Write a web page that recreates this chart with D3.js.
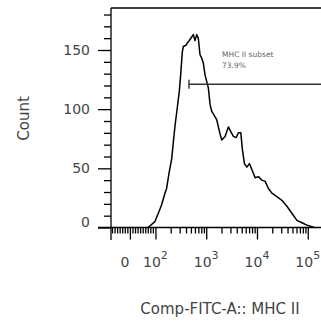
<!DOCTYPE html>
<html>
<head>
<meta charset="utf-8">
<script src="https://cdn.jsdelivr.net/npm/d3@7"></script>
<style>
    body { margin: 0; background: #fff; }
    svg { display: block; font-family: "DejaVu Sans", sans-serif; }
</style>
</head>
<body>
<svg id="canvas" width="321" height="322"></svg>
<script>
// histogram bins: intensity (bin centre) and count
let binValues = [71, 98, 114, 132, 154, 166, 187, 209, 225, 243, 269, 295, 314, 338, 354, 400, 424, 465, 518, 557,
    602, 650, 699, 755, 816, 878, 948, 1102, 1191, 1286, 1383, 1615, 1735, 1875, 2025, 2353, 2735, 3050, 3430, 3877,
    4305, 4800, 5161, 5657, 6308, 7100, 7925, 9204, 10690, 12470, 14490, 16830, 19640, 24650, 30960, 38820, 48730,
    61190, 76780, 96390, 112000, 134300]
let binCounts = [0, 5, 12, 19, 29, 33, 47, 58, 72, 86, 101, 115, 129, 148, 153, 154, 156, 158, 161, 163,
    158, 163, 160, 146, 143, 139, 129, 118, 104, 98, 96, 91, 85, 79, 74, 77, 85, 81, 77, 76,
    80, 80, 66, 54, 51, 54, 49, 42, 43, 40, 39, 33, 29, 26, 23, 18, 12,
    6, 4, 2, 1, 0]

let yMajorTicks = [0, 50, 100, 150]
let yMinorTicks = [10, 20, 30, 40, 60, 70, 80, 90, 110, 120, 130, 140, 160, 170, 180]

let xMajorTicks = [0, 100, 1000, 10000, 100000]
let xTickLabels = ['0', '2', '3', '4', '5'] // exponents, '0' is plain zero
let xMinorTicks = [-70, -60, -50, -40, -30, -20, -10, 10, 20, 30, 40, 50, 60, 70, 80, 90,
    200, 300, 400, 500, 600, 700, 800, 900, 2000, 3000, 4000, 5000, 6000, 7000, 8000, 9000,
    20000, 30000, 40000, 50000, 60000, 70000, 80000, 90000, 200000]

let xDomain = [-74, 262144]
let yDomain = [0, 185.5]

let gateRange = [458, 262144]
let gateCount = 121
let gateName = 'MHC II subset'
let gatePercent = '73.9%'

let xTitle = 'Comp-FITC-A:: MHC II'
let yTitle = 'Count'

let canvas = d3.select('#canvas')

// biexponential-ish display: linear below 100, log10 above
let toDisplay = (v) => {
    return v >= 100 ? Math.log10(v) : 2 - 0.503 * (100 - v) / 100
}

let x = d3.scaleLinear()
    .domain(xDomain.map(toDisplay))
    .range([111, 329])

let y = d3.scaleLinear()
    .domain(yDomain)
    .range([227.5, 8])

let drawChart = () => {

    // minor ticks first
    canvas.append('g')
        .attr('class', 'y-minor')
        .attr('transform', 'translate(111,0)')
        .call(d3.axisLeft(y).tickValues(yMinorTicks).tickSize(7).tickFormat(''))

    canvas.append('g')
        .attr('class', 'y-major')
        .attr('transform', 'translate(111,0)')
        .call(d3.axisLeft(y).tickValues(yMajorTicks).tickSize(13).tickPadding(8))

    canvas.append('g')
        .attr('class', 'x-minor')
        .attr('transform', 'translate(0,227.5)')
        .call(d3.axisBottom(x).tickValues(xMinorTicks.map(toDisplay)).tickSize(6).tickFormat(''))

    canvas.append('g')
        .attr('class', 'x-major')
        .attr('transform', 'translate(0,227.5)')
        .call(d3.axisBottom(x).tickValues(xMajorTicks.map(toDisplay)).tickSize(12).tickFormat(''))

    canvas.selectAll('.domain').remove()
    canvas.selectAll('.tick line')
        .attr('stroke', '#000')
        .attr('stroke-width', 1.3)

    canvas.selectAll('.y-major text')
        .attr('font-size', 14)
        .attr('font-family', '"DejaVu Sans", sans-serif')
        .attr('fill', '#444')
        .attr('dy', (d) => {
            return d === 0 ? '-0.05em' : '0.32em'
        })

    // x tick labels with superscript exponents
    let xLabels = canvas.append('g')
        .selectAll('text')
        .data(xMajorTicks)
        .enter()
        .append('text')
        .attr('x', (d, i) => {
            return i === 0 ? x(toDisplay(d)) - 5 : x(toDisplay(d))
        })
        .attr('y', 267)
        .attr('text-anchor', 'middle')
        .attr('font-size', 14)
        .attr('fill', '#444')

    xLabels.append('tspan')
        .text((d, i) => {
            return i === 0 ? '0' : '10'
        })
    xLabels.filter((d, i) => i > 0)
        .append('tspan')
        .attr('font-size', 11)
        .attr('dy', -8)
        .text((d, i) => {
            return xTickLabels[i + 1]
        })

    // frame: left, top, x axis
    canvas.append('line')
        .attr('x1', 111).attr('x2', 111)
        .attr('y1', 8).attr('y2', 240)
        .attr('stroke', '#000').attr('stroke-width', 1.3)
    canvas.append('line')
        .attr('x1', 111).attr('x2', 321)
        .attr('y1', 8).attr('y2', 8)
        .attr('stroke', '#000').attr('stroke-width', 1.3)
    canvas.append('line')
        .attr('x1', 98).attr('x2', 321)
        .attr('y1', 227.5).attr('y2', 227.5)
        .attr('stroke', '#000').attr('stroke-width', 1.3)

    // histogram
    let line = d3.line()
        .x((d, i) => {
            return x(toDisplay(binValues[i]))
        })
        .y((d) => {
            return y(d)
        })

    canvas.append('path')
        .datum(binCounts)
        .attr('d', line)
        .attr('fill', 'none')
        .attr('stroke', '#000')
        .attr('stroke-width', 1.5)
        .attr('stroke-linejoin', 'round')

    // gate
    let gx0 = x(toDisplay(gateRange[0]))
    let gx1 = x(toDisplay(gateRange[1]))
    canvas.append('line')
        .attr('x1', gx0).attr('x2', gx1)
        .attr('y1', y(gateCount)).attr('y2', y(gateCount))
        .attr('stroke', '#333').attr('stroke-width', 1.4)
    canvas.append('line')
        .attr('x1', gx0).attr('x2', gx0)
        .attr('y1', y(gateCount) - 4.5).attr('y2', y(gateCount) + 4.5)
        .attr('stroke', '#333').attr('stroke-width', 1.4)

    let gateLabel = canvas.append('text')
        .attr('x', x(toDisplay(2050)))
        .attr('y', 57)
        .attr('font-size', 7.5)
        .attr('fill', '#666')
    gateLabel.append('tspan')
        .text(gateName)
    gateLabel.append('tspan')
        .attr('x', x(toDisplay(2050)))
        .attr('dy', 10.5)
        .text(gatePercent)

    // axis titles
    canvas.append('text')
        .attr('transform', 'translate(29,118.5) rotate(-90)')
        .attr('text-anchor', 'middle')
        .attr('font-size', 15)
        .attr('fill', '#444')
        .text(yTitle)

    canvas.append('text')
        .attr('x', 220)
        .attr('y', 314)
        .attr('text-anchor', 'middle')
        .attr('font-size', 15)
        .attr('fill', '#444')
        .text(xTitle)
}

drawChart()
</script>
</body>
</html>
